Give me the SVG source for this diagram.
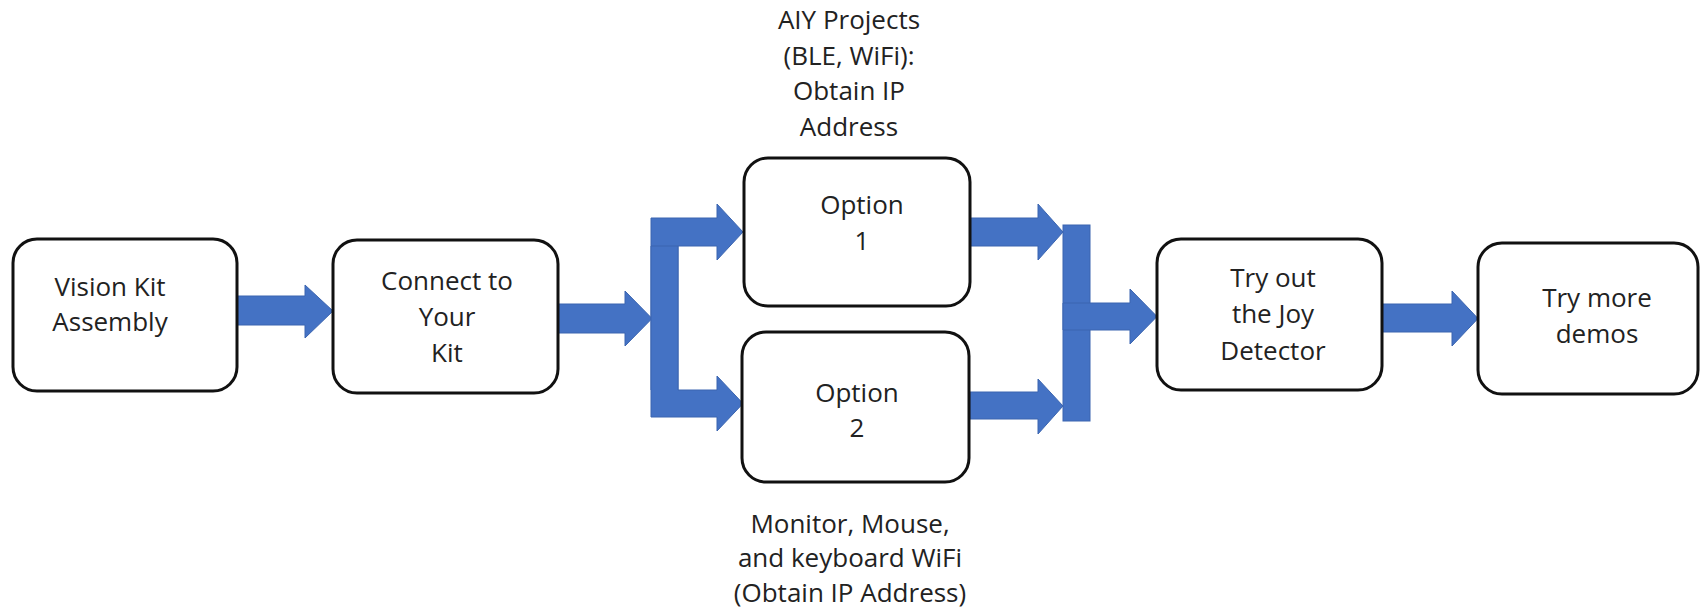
<svg xmlns="http://www.w3.org/2000/svg" width="1700" height="608" viewBox="0 0 1700 608">
  <style>
    .box { fill: #ffffff; stroke: #111111; stroke-width: 3; }
    .lbl { font-family: "Open Sans", "Liberation Sans", sans-serif; font-size: 26px; fill: #222222; text-anchor: middle; }
    .arr { fill: #4472C4; stroke: #3B65B0; stroke-width: 1; }
  </style>
  <rect width="1700" height="608" fill="#ffffff"/>
  <g id="connectors">
    <polygon class="arr" points="237,296 305,296 305,285 333,311 305,338 305,325 237,325"/>
    <polygon class="arr" points="558,304 625,304 625,291 652,318.5 625,346 625,333 558,333"/>
    <polygon class="arr" points="651,390 651,218 717,218 717,204 743,232 717,260 717,246 678,246 678,390"/>
    <polygon class="arr" points="651,246 678,246 678,390 717,390 717,376 743,403.5 717,431 717,417 651,417"/>
    <polygon class="arr" points="970,218 1038,218 1038,204 1063,232 1038,260 1038,246 970,246"/>
    <polygon class="arr" points="970,392 1038,392 1038,379 1063,406 1038,434 1038,419 970,419"/>
    <rect class="arr" x="1063" y="225" width="27" height="196"/>
    <polygon class="arr" points="1063,303 1130,303 1130,289 1157,316.5 1130,344 1130,330 1063,330"/>
    <polygon class="arr" points="1382,304 1452,304 1452,291 1478,318.5 1452,346 1452,332 1382,332"/>
  </g>
  <g id="node-assembly">
    <rect class="box" x="13" y="239" width="224" height="152" rx="24"/>
    <text class="lbl" x="110" y="296">Vision Kit</text>
    <text class="lbl" x="110" y="331">Assembly</text>
  </g>
  <g id="node-connect">
    <rect class="box" x="333" y="240" width="225" height="153" rx="24"/>
    <text class="lbl" x="447" y="290">Connect to</text>
    <text class="lbl" x="447" y="326">Your</text>
    <text class="lbl" x="447" y="362">Kit</text>
  </g>
  <g id="node-option1">
    <rect class="box" x="744" y="158" width="226" height="148" rx="24"/>
    <text class="lbl" x="862" y="214">Option</text>
    <text class="lbl" x="862" y="250">1</text>
  </g>
  <g id="node-option2">
    <rect class="box" x="742" y="332" width="227" height="150" rx="24"/>
    <text class="lbl" x="857" y="402">Option</text>
    <text class="lbl" x="857" y="437">2</text>
  </g>
  <g id="node-joy">
    <rect class="box" x="1157" y="239" width="225" height="151" rx="24"/>
    <text class="lbl" x="1273" y="287">Try out</text>
    <text class="lbl" x="1273" y="323">the Joy</text>
    <text class="lbl" x="1273" y="360">Detector</text>
  </g>
  <g id="node-demos">
    <rect class="box" x="1478" y="243" width="220" height="151" rx="24"/>
    <text class="lbl" x="1597" y="307">Try more</text>
    <text class="lbl" x="1597" y="343">demos</text>
  </g>
  <g id="label-option1">
    <text class="lbl" x="849" y="29">AIY Projects</text>
    <text class="lbl" x="849" y="65">(BLE, WiFi):</text>
    <text class="lbl" x="849" y="100">Obtain IP</text>
    <text class="lbl" x="849" y="136">Address</text>
  </g>
  <g id="label-option2">
    <text class="lbl" x="850" y="533">Monitor, Mouse,</text>
    <text class="lbl" x="850" y="567">and keyboard WiFi</text>
    <text class="lbl" x="850" y="602">(Obtain IP Address)</text>
  </g>
</svg>
